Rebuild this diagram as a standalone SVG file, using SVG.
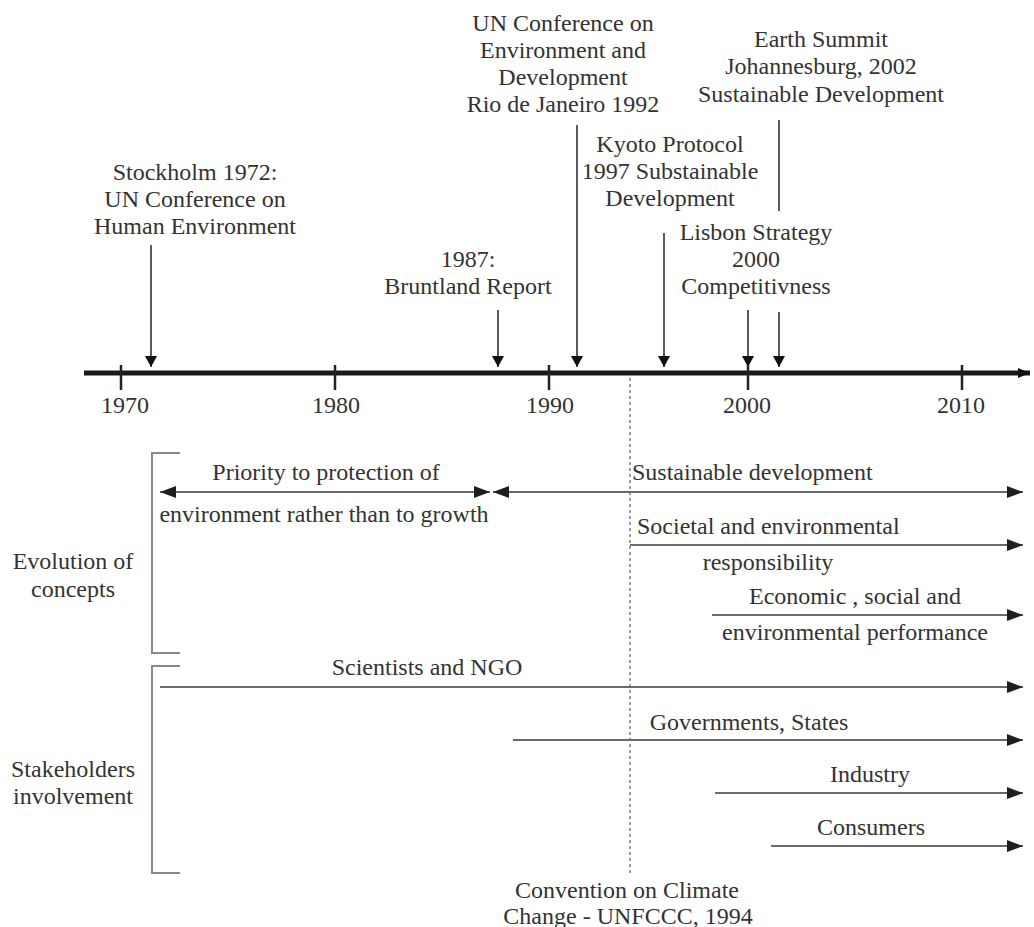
<svg xmlns="http://www.w3.org/2000/svg" width="1034" height="927" viewBox="0 0 1034 927">
<style>
text{font-family:"Liberation Serif","Times New Roman",serif;font-size:24px;fill:#333}
.c{text-anchor:middle}
.ev{stroke:#4a4a4a;stroke-width:1.8;fill:none}
.ln{stroke:#6a6a6a;stroke-width:1.8;fill:none}
.br{stroke:#888;stroke-width:2;fill:none}
.tk{stroke:#222;stroke-width:2.5}
</style>
<defs>
<marker id="down" markerUnits="userSpaceOnUse" markerWidth="14" markerHeight="13" refX="7" refY="12" orient="0" viewBox="0 0 14 13">
<path d="M1,1 L13,1 L7,12 Z" fill="#111"/>
</marker>
<marker id="ah" markerUnits="userSpaceOnUse" markerWidth="16" markerHeight="12" refX="16" refY="6" orient="auto-start-reverse" viewBox="0 0 16 12">
<path d="M0,0 L16,6 L0,12 Z" fill="#1e1e1e"/>
</marker>
<marker id="axh" markerUnits="userSpaceOnUse" markerWidth="12" markerHeight="12" refX="12" refY="6" orient="auto" viewBox="0 0 12 12">
<path d="M0,1 L12,6 L0,11 Z" fill="#111"/>
</marker>
</defs>

<g id="axis">
<line x1="84" y1="373" x2="1030" y2="373" stroke="#1a1a1a" stroke-width="5" marker-end="url(#axh)"/>
<line class="tk" x1="121" y1="365" x2="121" y2="390"/>
<line class="tk" x1="335" y1="365" x2="335" y2="390"/>
<line class="tk" x1="549" y1="365" x2="549" y2="390"/>
<line class="tk" x1="748" y1="365" x2="748" y2="390"/>
<line class="tk" x1="962" y1="365" x2="962" y2="390"/>
<text class="c" x="125" y="413">1970</text>
<text class="c" x="336" y="413">1980</text>
<text class="c" x="550" y="413">1990</text>
<text class="c" x="747" y="413">2000</text>
<text class="c" x="961" y="413">2010</text>
</g>

<g id="connectors">
<line class="ev" x1="151" y1="245" x2="151" y2="367" marker-end="url(#down)"/>
<line class="ev" x1="498" y1="310" x2="498" y2="367" marker-end="url(#down)"/>
<line class="ev" x1="577" y1="125" x2="577" y2="367" marker-end="url(#down)"/>
<line class="ev" x1="664" y1="233" x2="664" y2="367" marker-end="url(#down)"/>
<line class="ev" x1="748" y1="310" x2="748" y2="367" marker-end="url(#down)"/>
<line class="ev" x1="779" y1="120" x2="779" y2="211"/>
<line class="ev" x1="779" y1="312" x2="779" y2="367" marker-end="url(#down)"/>
<line x1="630" y1="378" x2="630" y2="873" stroke="#888" stroke-width="1.6" stroke-dasharray="3,3"/>
<line class="ln" x1="160" y1="492" x2="490" y2="492" marker-start="url(#ah)" marker-end="url(#ah)"/>
<line class="ln" x1="493" y1="492" x2="1023" y2="492" marker-start="url(#ah)" marker-end="url(#ah)"/>
<line class="ln" x1="630" y1="545" x2="1023" y2="545" marker-end="url(#ah)"/>
<line class="ln" x1="712" y1="615" x2="1023" y2="615" marker-end="url(#ah)"/>
<line class="ln" x1="160" y1="687" x2="1023" y2="687" marker-end="url(#ah)"/>
<line class="ln" x1="513" y1="740" x2="1023" y2="740" marker-end="url(#ah)"/>
<line class="ln" x1="715" y1="793" x2="1023" y2="793" marker-end="url(#ah)"/>
<line class="ln" x1="771" y1="846" x2="1023" y2="846" marker-end="url(#ah)"/>
</g>

<g id="ev-stockholm">
<text class="c" x="195" y="180">Stockholm 1972:</text>
<text class="c" x="195" y="207">UN Conference on</text>
<text class="c" x="195" y="234">Human Environment</text>
</g>
<g id="ev-rio">
<text class="c" x="563" y="31">UN Conference on</text>
<text class="c" x="563" y="58">Environment and</text>
<text class="c" x="563" y="85">Development</text>
<text class="c" x="563" y="112">Rio de Janeiro 1992</text>
</g>
<g id="ev-earth">
<text class="c" x="821" y="47">Earth Summit</text>
<text class="c" x="821" y="74">Johannesburg, 2002</text>
<text class="c" x="821" y="102">Sustainable Development</text>
</g>
<g id="ev-kyoto">
<text class="c" x="670" y="152">Kyoto Protocol</text>
<text class="c" x="670" y="179">1997 Substainable</text>
<text class="c" x="670" y="206">Development</text>
</g>
<g id="ev-lisbon">
<text class="c" x="756" y="240">Lisbon Strategy</text>
<text class="c" x="756" y="267">2000</text>
<text class="c" x="756" y="294">Competitivness</text>
</g>
<g id="ev-bruntland">
<text class="c" x="468" y="267">1987:</text>
<text class="c" x="468" y="294">Bruntland Report</text>
</g>

<g id="grp-concepts">
<path class="br" d="M180,453 H152 V653 H180"/>
<text class="c" x="73" y="569">Evolution of</text>
<text class="c" x="73" y="597">concepts</text>
</g>
<g id="grp-stakeholders">
<path class="br" d="M180,666 H152 V873 H180"/>
<text class="c" x="73" y="777">Stakeholders</text>
<text class="c" x="73" y="804">involvement</text>
</g>

<g id="c-priority">
<text class="c" x="326" y="480">Priority to protection of</text>
<text class="c" x="324" y="522">environment rather than to growth</text>
</g>
<g id="c-sustainable">
<text x="632" y="480">Sustainable development</text>
</g>
<g id="c-societal">
<text x="637" y="534">Societal and environmental</text>
<text class="c" x="768" y="570">responsibility</text>
</g>
<g id="c-economic">
<text class="c" x="855" y="604">Economic , social and</text>
<text class="c" x="855" y="640">environmental performance</text>
</g>
<g id="s-scientists">
<text class="c" x="427" y="675">Scientists and NGO</text>
</g>
<g id="s-governments">
<text class="c" x="749" y="730">Governments, States</text>
</g>
<g id="s-industry">
<text class="c" x="870" y="782">Industry</text>
</g>
<g id="s-consumers">
<text class="c" x="871" y="835">Consumers</text>
</g>
<g id="ev-unfccc">
<text class="c" x="627" y="898">Convention on Climate</text>
<text class="c" x="628" y="924">Change - UNFCCC, 1994</text>
</g>
</svg>
